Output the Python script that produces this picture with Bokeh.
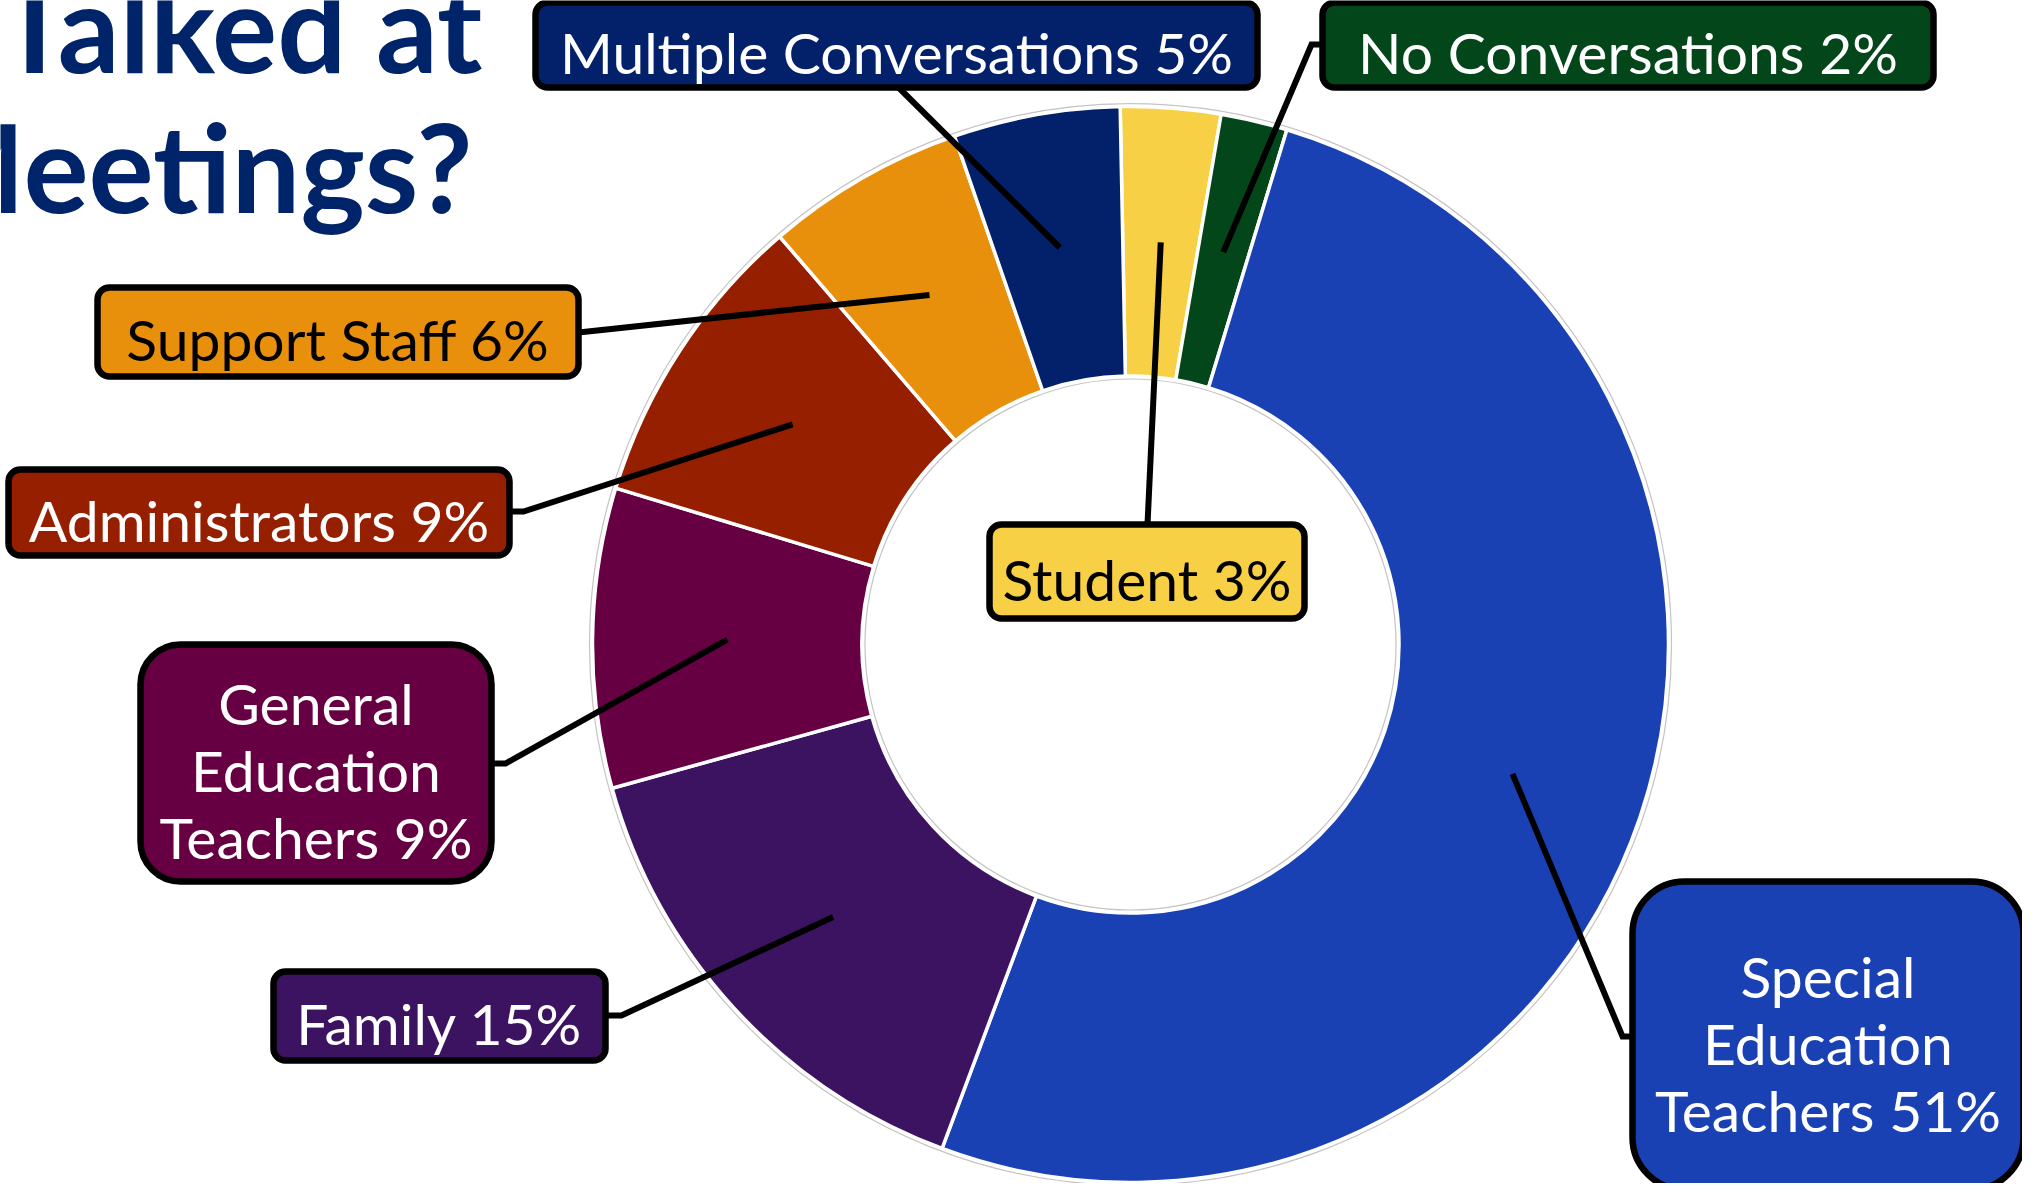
import math
from bokeh.plotting import figure
from bokeh.models import Range1d
from bokeh.core.properties import value
from bokeh.embed import file_html
from bokeh.resources import INLINE

# ---------------- data ----------------
categories = ["Student", "No Conversations", "Special Education Teachers", "Family",
              "General Education Teachers", "Administrators", "Support Staff",
              "Multiple Conversations"]
percents = [3, 2, 51, 15, 9, 9, 6, 5]
title_lines = ["Talked at", "Meetings?"]

# ---------------- styles / layout ----------------
colors = ["#F8D046", "#03461A", "#1A41B4", "#3C1361", "#660042", "#961F00", "#E8900C", "#03216A"]
text_colors = ["black", "white", "white", "white", "white", "white", "black", "white"]
FONT = value("Lato")
LABEL_PX = 57
TITLE_PX = 122

W, H, M = 2022, 1183, 8
CX, CY = 1138, -652          # donut centre (y is negated page y)
R_OUT, R_IN = 538, 268.5
START_DEG = -1.1             # clockwise from 12 o'clock

# label boxes: left, right, top, bottom (page pixels), corner radius
boxes = {
    "Multiple Conversations": (543, 1265, 10, 95, 12),
    "No Conversations": (1330, 1941, 10, 95, 12),
    "Support Staff": (105, 586, 295, 384, 12),
    "Administrators": (16, 517, 477, 563, 12),
    "General Education Teachers": (148, 499, 652, 889, 40),
    "Family": (281, 613, 979, 1068, 12),
    "Student": (997, 1312, 532, 626, 12),
    "Special Education Teachers": (1640, 2031, 889, 1197, 52),
}
# leader-line anchor(s) on the box side (page pixels)
anchors = {
    "Multiple Conversations": [(906, 95)],
    "No Conversations": [(1330, 52), (1319, 52)],
    "Support Staff": [(586, 340)],
    "Administrators": [(517, 519), (531, 519)],
    "General Education Teachers": [(499, 771), (513, 771)],
    "Family": [(613, 1023), (629, 1023)],
    "Student": [(1155, 532)],
    "Special Education Teachers": [(1640, 1044), (1630, 1044)],
}

p = figure(width=W, height=H, x_range=Range1d(M, M + W), y_range=Range1d(-(M + H), -M),
           output_backend="svg", toolbar_location=None, min_border=0,
           x_axis_location=None, y_axis_location=None)
p.grid.visible = False
p.outline_line_color = None
p.background_fill_color = "white"
p.border_fill_color = "white"

# ---------------- donut ----------------
starts, ends, mids = [], [], []
cum = 0.0
for v in percents:
    a0 = START_DEG + 3.6 * cum
    cum += v
    a1 = START_DEG + 3.6 * cum
    starts.append(math.radians(90 - a0))
    ends.append(math.radians(90 - a1))
    mids.append((a0 + a1) / 2)

# faint grey outline like the original
p.circle(x=[CX], y=[CY], radius=R_OUT + 3, fill_color=None, line_color="#c4c4c4", line_width=1.2)
p.circle(x=[CX], y=[CY], radius=R_IN - 3, fill_color=None, line_color="#c4c4c4", line_width=1.2)

p.annular_wedge(x=CX, y=CY, inner_radius=R_IN, outer_radius=R_OUT,
                start_angle=starts, end_angle=ends, direction="clock",
                fill_color=colors, line_color="white", line_width=3.5)

# ---------------- leader lines ----------------
r_mid = (R_IN + R_OUT) / 2
xs, ys = [], []
for cat, m in zip(categories, mids):
    px = CX + r_mid * math.sin(math.radians(m))
    py = CY + r_mid * math.cos(math.radians(m))
    pts = anchors[cat]
    xs.append([a[0] for a in pts] + [px])
    ys.append([-a[1] for a in pts] + [py])
p.multi_line(xs, ys, line_color="black", line_width=6, line_join="miter")

# ---------------- label boxes ----------------
LINE_H = 67
for cat, pct, fc, tc in zip(categories, percents, colors, text_colors):
    l, r, t, b, rad = boxes[cat]
    p.quad(left=[l], right=[r], top=[-t], bottom=[-b], fill_color=fc,
           line_color="black", line_width=6.5, border_radius=rad)
    words = cat.split(" ")
    if len(words) == 3:
        lines = [words[0], words[1], words[2] + f" {pct}%"]
    else:
        lines = [f"{cat} {pct}%"]
    cy = (t + b) / 2
    n = len(lines)
    base0 = cy + 21 - 14 - (n - 1) * LINE_H / 2
    p.text(x=[(l + r) / 2] * n, y=[-(base0 + i * LINE_H) for i in range(n)], text=lines,
           text_font=FONT, text_font_size=f"{LABEL_PX}px", text_color=tc,
           text_align="center", text_baseline="alphabetic")

# ---------------- title (partly off the slide) ----------------
p.text(x=[490, 480], y=[-(68 - 35), -(208 - 35)], text=title_lines, text_font=FONT,
       text_font_style="bold", text_font_size=f"{TITLE_PX}px", text_color="#002469",
       text_align="right", text_baseline="alphabetic")

open("out.html", "w").write(file_html(p, INLINE))
